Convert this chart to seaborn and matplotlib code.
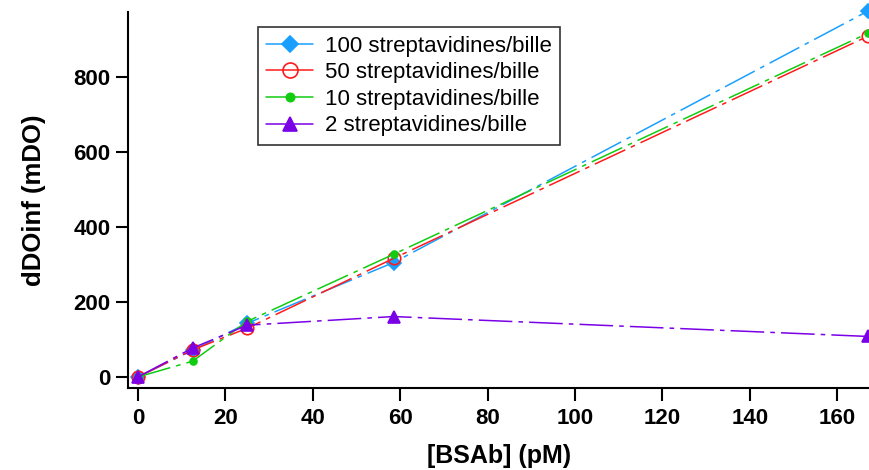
import pandas as pd
import numpy as np
import matplotlib
matplotlib.use('Agg')
import matplotlib.pyplot as plt
import seaborn as sns

sns.set_style('ticks', rc={'text.color': 'black', 'axes.labelcolor': 'black',
                           'xtick.color': 'black', 'ytick.color': 'black',
                           'axes.edgecolor': 'black'})
plt.rcParams['font.family'] = ['Liberation Sans', 'DejaVu Sans']

# data
bsab = [0, 12.5, 25, 58.5, 167]
s100 = [0, 71, 143, 305, 975]
s50 = [0, 72, 130, 316, 908]
s10 = [0, 42, 148, 327, 916]
s2 = [0, 77, 138, 161, 108]

labels = ['100 streptavidines/bille', '50 streptavidines/bille',
          '10 streptavidines/bille', '2 streptavidines/bille']
colors = ['#1A9FFF', '#FF1A1A', '#11CC11', '#7A00E6']
markers = ['D', 'o', 'o', '^']
msizes = [7, 9, 5, 8]
faces = ['#1A9FFF', 'none', '#11CC11', '#7A00E6']

df = pd.DataFrame({'x': bsab * 4,
                   'y': s100 + s50 + s10 + s2,
                   'serie': np.repeat(labels, len(bsab))})

fig = plt.figure(figsize=(8.7, 4.7), dpi=100)
ax = fig.add_axes([0.147, 0.174, 0.853, 0.80])

for i, lab in enumerate(labels):
    sub = df[df['serie'] == lab]
    sns.lineplot(data=sub, x='x', y='y', ax=ax, color=colors[i], label=lab,
                 marker=markers[i], markersize=msizes[i],
                 markerfacecolor=faces[i], markeredgecolor=colors[i],
                 markeredgewidth=1.2, linewidth=1.1,
                 linestyle=(0, (22, 4, 3, 4)), clip_on=False)

ax.set_xlim(-2.3, 167.5)
ax.set_ylim(-30, 972)
ax.set_xticks(range(0, 161, 20))
ax.set_yticks(range(0, 801, 200))
for s in ['top', 'right']:
    ax.spines[s].set_visible(False)
for s in ['left', 'bottom']:
    ax.spines[s].set_linewidth(1.5)
ax.tick_params(axis='both', direction='out', length=9, width=1.5,
               labelsize=16)
ax.tick_params(axis='x', pad=5)
for t in ax.get_xticklabels() + ax.get_yticklabels():
    t.set_fontweight('bold')

ax.set_xlabel('[BSAb] (pM)', fontsize=18, fontweight='bold', labelpad=11)
ax.set_ylabel('dDOinf (mDO)', fontsize=18.5, fontweight='bold', labelpad=20)

leg = ax.legend(loc='upper left', bbox_to_anchor=(0.175, 0.96),
                fontsize=16, frameon=True, fancybox=False,
                edgecolor='black', handlelength=2.1, borderpad=0.38,
                labelspacing=0.25, handletextpad=0.55, borderaxespad=0,
                markerscale=1.2)
leg.get_frame().set_linewidth(1.2)
for h in leg.get_lines():
    h.set_linestyle('-')

fig.savefig('out.png', dpi=100)
